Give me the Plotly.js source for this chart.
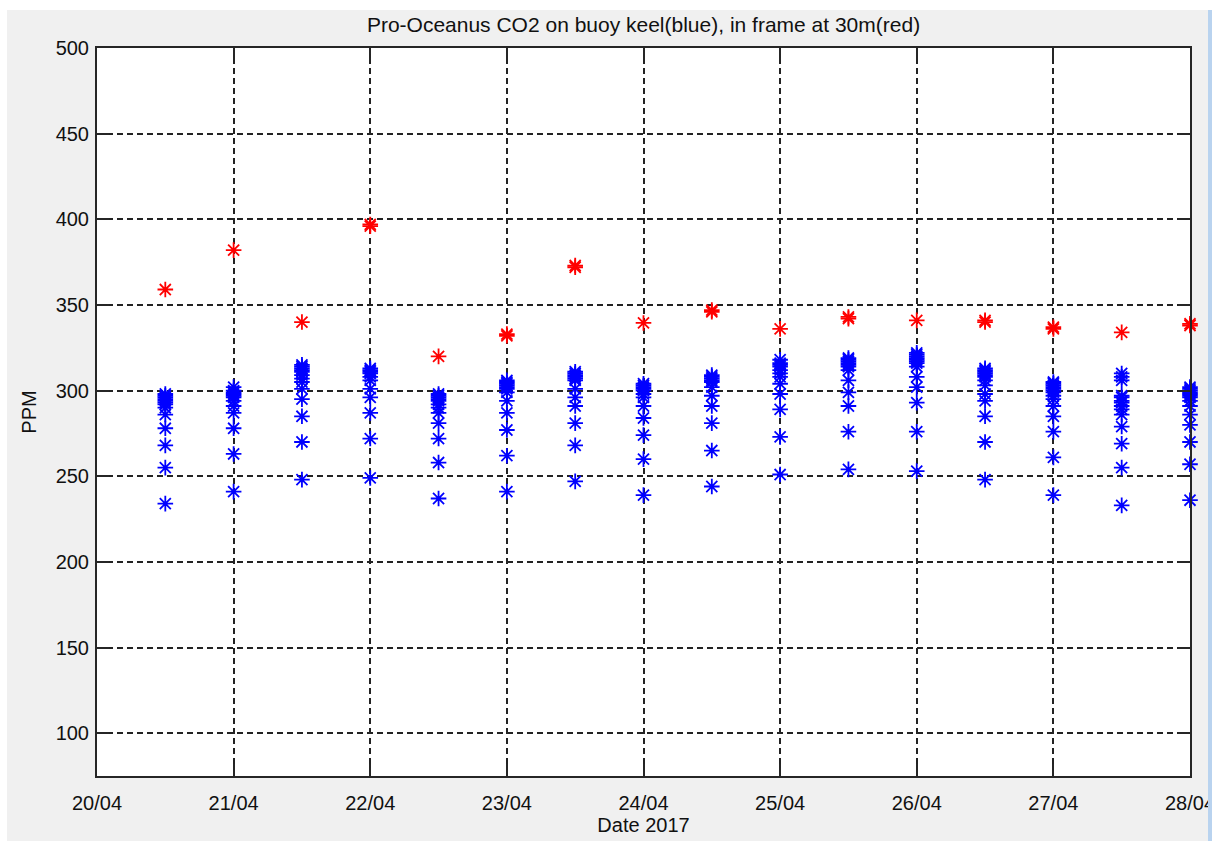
<!DOCTYPE html>
<html>
<head>
<meta charset="utf-8">
<script src="https://cdn.plot.ly/plotly-3.0.1.min.js"></script>
<style>
  html, body { margin: 0; padding: 0; background: #ffffff; width: 1212px; height: 841px; overflow: hidden; }
  #chart { position: absolute; left: 7px; top: 10px; width: 1201px; height: 831px; }
  #edge { position: absolute; left: 1208px; top: 10px; width: 4px; height: 831px; background: #b9d3ef; }
</style>
</head>
<body>
<div id="chart"></div>
<div id="edge"></div>
<script>
// Half-day sampling times
const keelDays = [
  '2017-04-20 12:00', '2017-04-21 00:00', '2017-04-21 12:00', '2017-04-22 00:00',
  '2017-04-22 12:00', '2017-04-23 00:00', '2017-04-23 12:00', '2017-04-24 00:00',
  '2017-04-24 12:00', '2017-04-25 00:00', '2017-04-25 12:00', '2017-04-26 00:00',
  '2017-04-26 12:00', '2017-04-27 00:00', '2017-04-27 12:00', '2017-04-28 00:00'
];
// CO2 on buoy keel (blue), one list of readings per sampling time
const keelPPM = [
  [234, 255, 268, 278, 286, 290, 292, 293, 294, 295, 296, 297, 298],
  [241, 263, 278, 287, 291, 294, 296, 297, 298, 299, 300, 302],
  [248, 270, 285, 295, 301, 305, 307, 309, 311, 312, 313, 314, 315],
  [249, 272, 287, 296, 301, 306, 308, 310, 311, 312, 313],
  [237, 258, 272, 281, 287, 290, 292, 294, 295, 296, 297, 298],
  [241, 262, 277, 287, 294, 299, 301, 302, 303, 304, 305, 306],
  [247, 268, 281, 291, 296, 301, 306, 307, 308, 309, 310, 311],
  [239, 260, 274, 284, 291, 296, 298, 300, 301, 302, 303, 304],
  [244, 265, 281, 291, 297, 302, 305, 306, 307, 308, 309],
  [251, 273, 289, 298, 304, 308, 310, 312, 314, 315, 316, 318],
  [254, 276, 291, 299, 306, 312, 314, 315, 316, 317, 318, 319],
  [253, 276, 293, 302, 308, 314, 316, 317, 318, 319, 320, 321, 322],
  [248, 270, 285, 294, 298, 303, 306, 308, 309, 310, 311, 312, 313],
  [239, 261, 276, 285, 291, 295, 297, 299, 300, 301, 302, 303, 304, 305],
  [233, 255, 269, 279, 286, 289, 291, 293, 294, 296, 297, 306, 308, 310],
  [236, 257, 270, 280, 286, 291, 294, 296, 297, 298, 299, 300, 301, 302]
];
// CO2 in frame at 30 m (red)
const framePPM = [
  [359], [382], [340], [396, 397], [320], [333, 332], [373, 372], [339.5],
  [347, 346], [336], [343, 342], [341], [341, 340], [337, 336], [334], [339, 338]
];
// Axis ticks
const yTicks = [100, 150, 200, 250, 300, 350, 400, 450, 500];
const xTicks = ['2017-04-20', '2017-04-21', '2017-04-22', '2017-04-23', '2017-04-24',
                '2017-04-25', '2017-04-26', '2017-04-27', '2017-04-28'];
const xTickText = ['20/04', '21/04', '22/04', '23/04', '24/04', '25/04', '26/04', '27/04', '28/04'];

function flatten(days, groups) {
  const xs = [], ys = [];
  groups.forEach((g, i) => g.forEach(v => { xs.push(days[i]); ys.push(v); }));
  return { xs, ys };
}
const keel = flatten(keelDays, keelPPM);
const frame = flatten(keelDays, framePPM);

const markerBase = { symbol: 'asterisk-open', size: 13 };
const traces = [
  { type: 'scatter', mode: 'markers', x: keel.xs, y: keel.ys, name: 'keel', cliponaxis: false,
    marker: Object.assign({}, markerBase, { color: '#0000ff', line: { color: '#0000ff', width: 1.8 } }) },
  { type: 'scatter', mode: 'markers', x: frame.xs, y: frame.ys, name: 'frame 30m', cliponaxis: false,
    marker: Object.assign({}, markerBase, { color: '#ff0000', line: { color: '#ff0000', width: 1.8 } }) }
];

const font = { family: 'Liberation Sans, Arial, sans-serif', size: 20, color: '#111111' };
const axisCommon = {
  showline: true, linecolor: '#262626', linewidth: 2, mirror: 'ticks',
  ticks: 'inside', ticklen: 12, tickwidth: 2, tickcolor: '#262626',
  showgrid: true, gridcolor: '#222222', gridwidth: 2, griddash: '6px,4px',
  zeroline: false, tickfont: font, ticklabeloverflow: 'allow'
};

const layout = {
  width: 1201, height: 831,
  paper_bgcolor: '#f0f0f0', plot_bgcolor: '#ffffff',
  margin: { l: 90, r: 18, t: 38, b: 65 },
  showlegend: false,
  font: font,
  title: { text: 'Pro-Oceanus CO2 on buoy keel(blue), in frame at 30m(red)',
           font: { family: font.family, size: 21, color: '#111111' },
           x: 0.5, xref: 'paper', y: 1 - 15 / 831, yref: 'container', yanchor: 'middle' },
  xaxis: Object.assign({}, axisCommon, {
    type: 'date', range: ['2017-04-20', '2017-04-28'],
    tickmode: 'array', tickvals: xTicks, ticktext: xTickText,
    ticklabelstandoff: 8,
    title: { text: 'Date 2017', font: font, standoff: 2 }
  }),
  yaxis: Object.assign({}, axisCommon, {
    range: [75, 500], tickmode: 'array', tickvals: yTicks,
    ticklabelstandoff: 2,
    title: { text: 'PPM', font: font, standoff: 14 }
  })
};

Plotly.newPlot('chart', traces, layout, { displayModeBar: false, staticPlot: true });
</script>
</body>
</html>
